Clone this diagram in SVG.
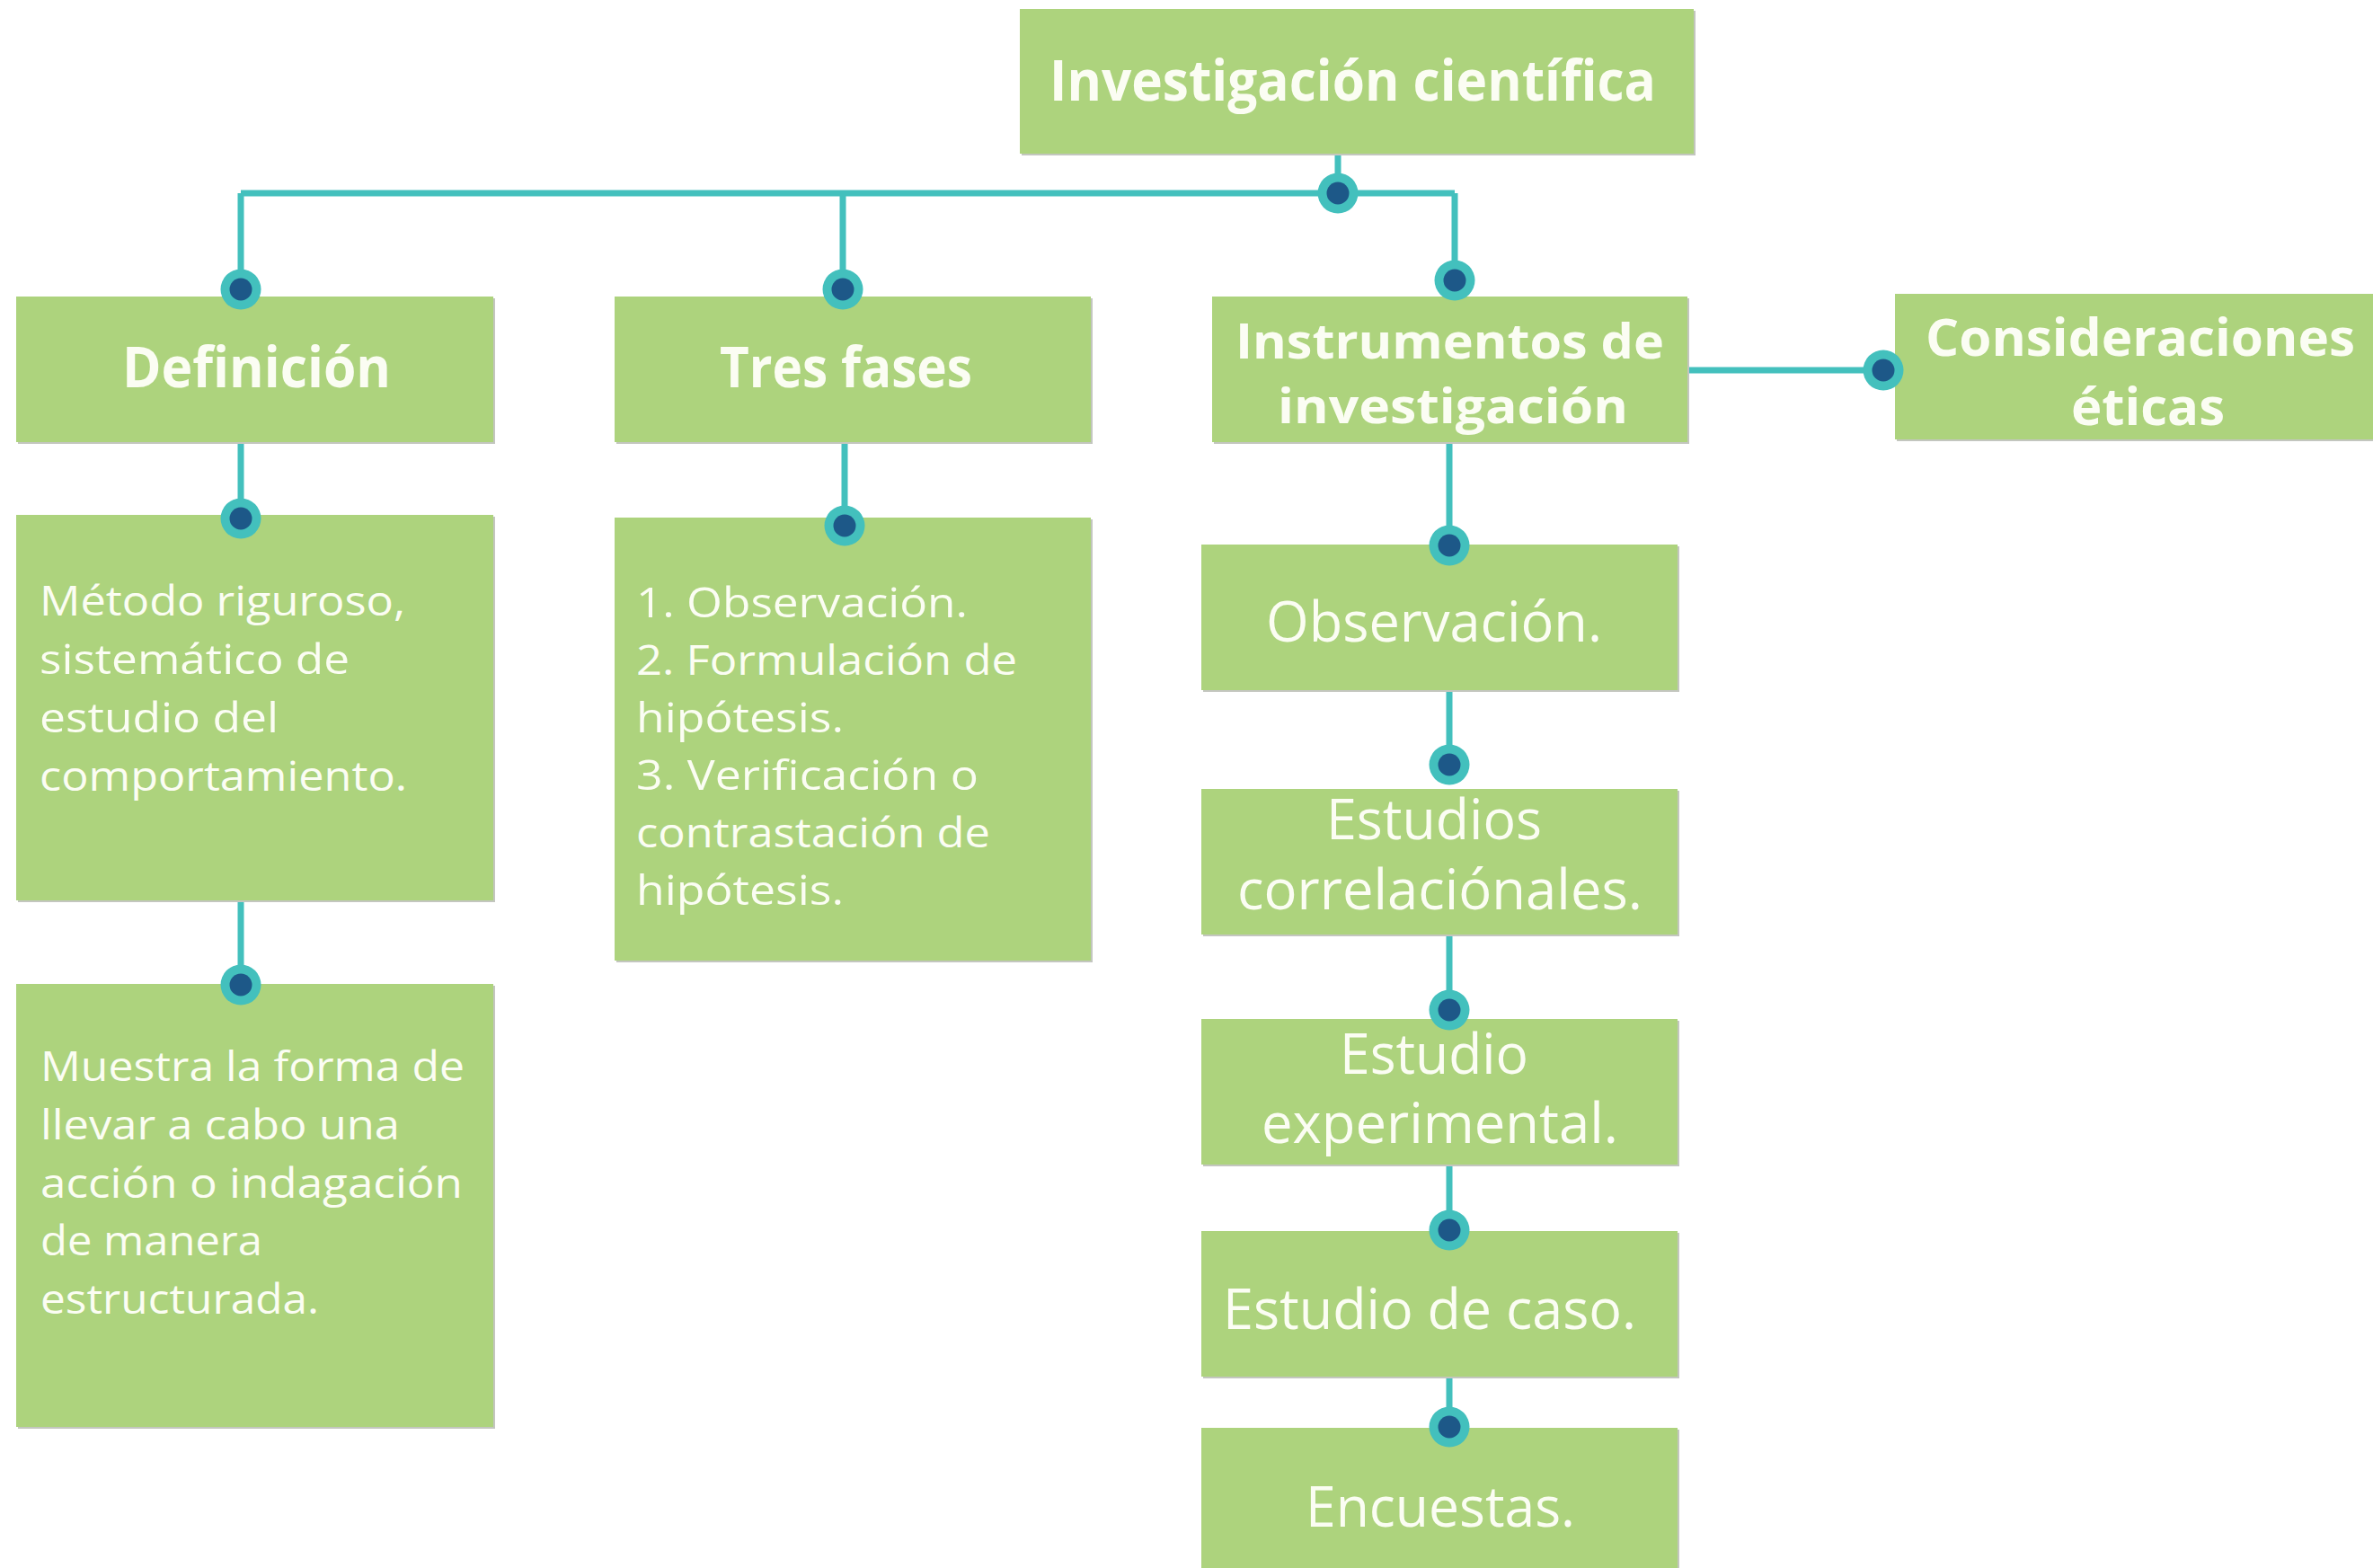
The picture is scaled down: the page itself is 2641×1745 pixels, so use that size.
<svg xmlns="http://www.w3.org/2000/svg" width="2641" height="1745" viewBox="0 0 2641 1745">
<style>
.box{fill:#ADD37D}
.sh{fill:#c3c6bf}
.t{fill:#FBFDF3;font-family:"Open Sans","Noto Sans","DejaVu Sans",sans-serif}
.b{font-weight:700;font-size:62px}
.b2{font-weight:700;font-size:57px}
.b3{font-weight:700;font-size:54px}
.r{font-weight:400;font-size:62px}
.s{font-weight:400;font-size:45px}
.ln{stroke:#43C0BD;stroke-width:7;fill:none}
.d1{fill:#43C0BD}
.d2{fill:#1D5888}
</style>
<defs>
<g id="dot"><circle r="22.5" class="d1"/><circle r="12.5" class="d2"/></g>
</defs>
<rect width="2641" height="1745" fill="#ffffff"/>

<g id="connectors">
<path class="ln" d="M1489 170 V215 M268 215 H1619 M268 215 V322 M938 215 V322 M1619 215 V312"/>
<path class="ln" d="M268 492 V577 M268 1002 V1096 M940 492 V585"/>
<path class="ln" d="M1613 492 V607 M1613 768 V851 M1613 1040 V1124 M1613 1296 V1369 M1613 1532 V1588"/>
<path class="ln" d="M1878 412 H2096"/>
</g>

<g id="n-top">
<rect class="sh" x="1137" y="12" width="750" height="161"/>
<rect class="box" x="1135" y="10" width="750" height="161"/>
<text class="t b" x="1168" y="112" textLength="675" lengthAdjust="spacingAndGlyphs">Investigación científica</text>
</g>

<g id="n-definicion">
<rect class="sh" x="20" y="332" width="531" height="162"/>
<rect class="box" x="18" y="330" width="531" height="162"/>
<text class="t b" x="136" y="431" textLength="299" lengthAdjust="spacingAndGlyphs">Definición</text>
</g>

<g id="n-tres">
<rect class="sh" x="686" y="332" width="530" height="162"/>
<rect class="box" x="684" y="330" width="530" height="162"/>
<text class="t b" x="801" y="431" textLength="281" lengthAdjust="spacingAndGlyphs">Tres fases</text>
</g>

<g id="n-instrumentos">
<rect class="sh" x="1351" y="332" width="529" height="162"/>
<rect class="box" x="1349" y="330" width="529" height="162"/>
<text class="t b3" x="1375" y="399" textLength="477" lengthAdjust="spacingAndGlyphs">Instrumentos de</text>
<text class="t b3" x="1422" y="471" textLength="390" lengthAdjust="spacingAndGlyphs">investigación</text>
</g>

<g id="n-consideraciones">
<rect class="sh" x="2111" y="329" width="532" height="162"/>
<rect class="box" x="2109" y="327" width="532" height="162"/>
<text class="t b2" x="2143" y="396" textLength="478" lengthAdjust="spacingAndGlyphs">Consideraciones</text>
<text class="t b2" x="2305" y="473" textLength="171" lengthAdjust="spacingAndGlyphs">éticas</text>
</g>

<g id="n-metodo">
<rect class="sh" x="20" y="575" width="531" height="429"/>
<rect class="box" x="18" y="573" width="531" height="429"/>
<text class="t s" x="44" y="685" textLength="407" lengthAdjust="spacingAndGlyphs">Método riguroso,</text>
<text class="t s" x="44" y="750" textLength="345" lengthAdjust="spacingAndGlyphs">sistemático de</text>
<text class="t s" x="44" y="815" textLength="266" lengthAdjust="spacingAndGlyphs">estudio del</text>
<text class="t s" x="44" y="880" textLength="409" lengthAdjust="spacingAndGlyphs">comportamiento.</text>
</g>

<g id="n-muestra">
<rect class="sh" x="20" y="1097" width="531" height="493"/>
<rect class="box" x="18" y="1095" width="531" height="493"/>
<text class="t s" x="45" y="1203" textLength="472" lengthAdjust="spacingAndGlyphs">Muestra la forma de</text>
<text class="t s" x="45" y="1268" textLength="400" lengthAdjust="spacingAndGlyphs">llevar a cabo una</text>
<text class="t s" x="45" y="1333" textLength="470" lengthAdjust="spacingAndGlyphs">acción o indagación</text>
<text class="t s" x="45" y="1397" textLength="247" lengthAdjust="spacingAndGlyphs">de manera</text>
<text class="t s" x="45" y="1462" textLength="310" lengthAdjust="spacingAndGlyphs">estructurada.</text>
</g>

<g id="n-fases">
<rect class="sh" x="686" y="578" width="530" height="493"/>
<rect class="box" x="684" y="576" width="530" height="493"/>
<text class="t s" x="708" y="687" textLength="369" lengthAdjust="spacingAndGlyphs">1. Observación.</text>
<text class="t s" x="708" y="751" textLength="424" lengthAdjust="spacingAndGlyphs">2. Formulación de</text>
<text class="t s" x="708" y="815" textLength="231" lengthAdjust="spacingAndGlyphs">hipótesis.</text>
<text class="t s" x="708" y="879" textLength="381" lengthAdjust="spacingAndGlyphs">3. Verificación o</text>
<text class="t s" x="708" y="943" textLength="394" lengthAdjust="spacingAndGlyphs">contrastación de</text>
<text class="t s" x="708" y="1007" textLength="231" lengthAdjust="spacingAndGlyphs">hipótesis.</text>
</g>

<g id="n-observacion">
<rect class="sh" x="1339" y="608" width="530" height="162"/>
<rect class="box" x="1337" y="606" width="530" height="162"/>
<text class="t r" x="1409" y="714" textLength="374" lengthAdjust="spacingAndGlyphs">Observación.</text>
</g>

<g id="n-correlacionales">
<rect class="sh" x="1339" y="880" width="530" height="162"/>
<rect class="box" x="1337" y="878" width="530" height="162"/>
<text class="t r" x="1476" y="934" textLength="240" lengthAdjust="spacingAndGlyphs">Estudios</text>
<text class="t r" x="1377" y="1012" textLength="451" lengthAdjust="spacingAndGlyphs">correlaciónales.</text>
</g>

<g id="n-experimental">
<rect class="sh" x="1339" y="1136" width="530" height="162"/>
<rect class="box" x="1337" y="1134" width="530" height="162"/>
<text class="t r" x="1491" y="1195" textLength="210" lengthAdjust="spacingAndGlyphs">Estudio</text>
<text class="t r" x="1404" y="1272" textLength="397" lengthAdjust="spacingAndGlyphs">experimental.</text>
</g>

<g id="n-caso">
<rect class="sh" x="1339" y="1372" width="530" height="162"/>
<rect class="box" x="1337" y="1370" width="530" height="162"/>
<text class="t r" x="1361" y="1479" textLength="460" lengthAdjust="spacingAndGlyphs">Estudio de caso.</text>
</g>

<g id="n-encuestas">
<rect class="sh" x="1339" y="1591" width="530" height="160"/>
<rect class="box" x="1337" y="1589" width="530" height="160"/>
<text class="t r" x="1453" y="1699" textLength="300" lengthAdjust="spacingAndGlyphs">Encuestas.</text>
</g>

<g id="dots">
<use href="#dot" x="1489" y="215"/>
<use href="#dot" x="268" y="322"/>
<use href="#dot" x="938" y="322"/>
<use href="#dot" x="1619" y="312"/>
<use href="#dot" x="268" y="577"/>
<use href="#dot" x="268" y="1096"/>
<use href="#dot" x="940" y="585"/>
<use href="#dot" x="1613" y="607"/>
<use href="#dot" x="1613" y="851"/>
<use href="#dot" x="1613" y="1124"/>
<use href="#dot" x="1613" y="1369"/>
<use href="#dot" x="1613" y="1588"/>
<use href="#dot" x="2096" y="412"/>
</g>
</svg>
